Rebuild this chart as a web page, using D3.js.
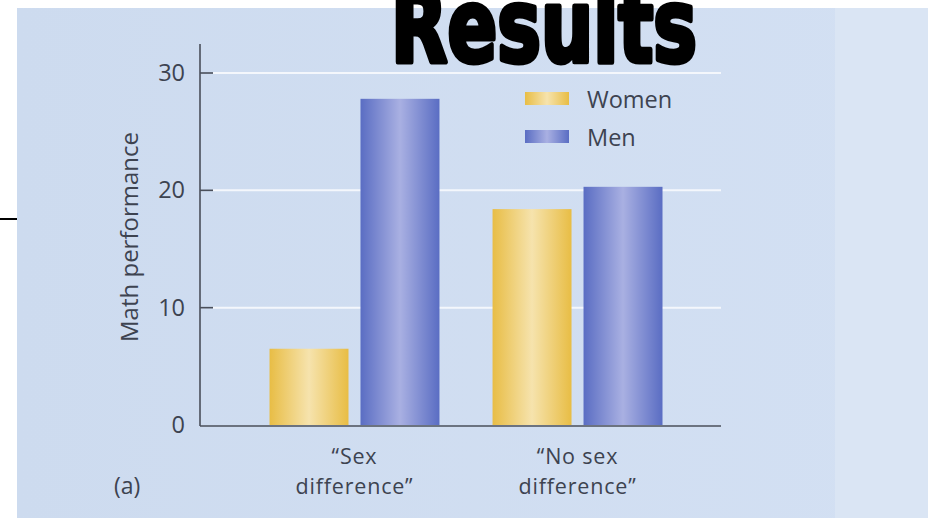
<!DOCTYPE html>
<html>
<head>
<meta charset="utf-8">
<script src="https://cdn.jsdelivr.net/npm/d3@7"></script>
<style>
  html, body { margin: 0; padding: 0; background: #fff; }
  svg { display: block; }
</style>
</head>
<body>
<svg id="chart" width="928" height="518"></svg>
<script>
// ---- data ----
const categories = ["“Sex difference”", "“No sex difference”"];
const categoryLines = [["“Sex", "difference”"], ["“No sex", "difference”"]];
const seriesNames = ["Women", "Men"];
const women = [6.5, 18.4];
const men = [27.8, 20.3];
const yTicks = [0, 10, 20, 30];
const titleText = "Results";
const yLabel = "Math performance";
const panelLabel = "(a)";

const svg = d3.select("#chart");
const W = 928, H = 518;
const textColor = "#3d4350";
const font = "'Open Sans', 'Noto Sans', sans-serif";

// gradients
const defs = svg.append("defs");
function cyl(id, edge, mid) {
  const g = defs.append("linearGradient").attr("id", id).attr("x1", "0%").attr("x2", "100%");
  g.append("stop").attr("offset", "0%").attr("stop-color", edge);
  g.append("stop").attr("offset", "50%").attr("stop-color", mid);
  g.append("stop").attr("offset", "100%").attr("stop-color", edge);
}
cyl("gWomen", "#e8bd45", "#f6e3ad");
cyl("gMen", "#5a6dc3", "#a9b0e2");
const bgGrad = defs.append("linearGradient").attr("id", "gBg").attr("x1", "0%").attr("x2", "100%");
bgGrad.append("stop").attr("offset", "0%").attr("stop-color", "#cddbef");
bgGrad.append("stop").attr("offset", "100%").attr("stop-color", "#d3e0f3");

// background photo region
svg.append("rect").attr("x", 17).attr("y", 8).attr("width", W - 17).attr("height", H - 8)
  .attr("fill", "url(#gBg)");
svg.append("rect").attr("x", 835).attr("y", 8).attr("width", W - 835).attr("height", H - 8)
  .attr("fill", "#dae5f4");
// black line at left
svg.append("line").attr("x1", 0).attr("x2", 17).attr("y1", 219).attr("y2", 219)
  .attr("stroke", "#000").attr("stroke-width", 2);

// scales
const y = d3.scaleLinear().domain([0, 30]).range([425, 73]);
const x0 = d3.scaleBand().domain(categories).range([200, 721])
  .paddingInner(0.238).paddingOuter(0.287).align(0.543);
const x1 = d3.scaleBand().domain(seriesNames).range([0, x0.bandwidth()]).paddingInner(0.132);
const fills = { Women: "url(#gWomen)", Men: "url(#gMen)" };

// gridlines (white)
svg.append("g").selectAll("line").data(yTicks.filter(d => d > 0)).join("line")
  .attr("x1", 213).attr("x2", 721)
  .attr("y1", d => y(d)).attr("y2", d => y(d))
  .attr("stroke", "#f4f7fc").attr("stroke-width", 2);

// bars
const rows = categories.map((c, i) => ({ cat: c, vals: [
  { s: "Women", v: women[i] }, { s: "Men", v: men[i] }] }));
svg.append("g").selectAll("g").data(rows).join("g")
  .attr("transform", d => `translate(${x0(d.cat)},0)`)
  .selectAll("rect").data(d => d.vals).join("rect")
  .attr("x", d => x1(d.s)).attr("width", x1.bandwidth())
  .attr("y", d => y(d.v)).attr("height", d => y(0) - y(d.v))
  .attr("fill", d => fills[d.s]);

// y axis
const yAxis = d3.axisLeft(y).tickValues(yTicks).tickSize(0).tickPadding(15);
const gy = svg.append("g").attr("transform", "translate(200,0)").call(yAxis);
gy.select(".domain").remove();
gy.selectAll("text").attr("font-family", font).attr("font-size", 23.5).attr("fill", textColor);
svg.append("line").attr("x1", 200).attr("x2", 200).attr("y1", 44).attr("y2", 426)
  .attr("stroke", "#4a4f5a").attr("stroke-width", 1.6);
svg.append("g").selectAll("line").data(yTicks.filter(d => d > 0)).join("line")
  .attr("x1", 200).attr("x2", 213).attr("y1", d => y(d)).attr("y2", d => y(d))
  .attr("stroke", "#4a4f5a").attr("stroke-width", 1.6);
// x axis line
svg.append("line").attr("x1", 200).attr("x2", 721).attr("y1", 426).attr("y2", 426)
  .attr("stroke", "#4a4f5a").attr("stroke-width", 1.6);

// category labels (two separate lines)
const catG = svg.append("g").selectAll("g").data(categories).join("g")
  .attr("transform", d => `translate(${x0(d) + x0.bandwidth() / 2},0)`);
catG.selectAll("text").data((d, i) => categoryLines[i]).join("text")
  .attr("x", 0).attr("y", (d, j) => 464 + j * 30)
  .attr("text-anchor", "middle")
  .attr("font-family", font).attr("font-size", 21.5).attr("letter-spacing", 0.8)
  .attr("fill", textColor)
  .text(d => d);

// panel label
svg.append("text").attr("x", 114).attr("y", 494).attr("font-family", font)
  .attr("font-size", 23).attr("fill", textColor).text(panelLabel);

// y label
svg.append("text").attr("transform", "translate(138,237) rotate(-90)")
  .attr("text-anchor", "middle").attr("font-family", font).attr("font-size", 24)
  .attr("fill", textColor).text(yLabel);

// legend
const lg = svg.append("g").selectAll("g").data(seriesNames).join("g")
  .attr("transform", (d, i) => `translate(525,${92 + i * 38})`);
lg.append("rect").attr("width", 44).attr("height", 13).attr("fill", d => fills[d]);
lg.append("text").attr("x", 62).attr("y", 16).attr("font-family", font)
  .attr("font-size", 23.5).attr("fill", textColor).text(d => d);

// title (cut at the top edge, as in the reference)
svg.append("text").attr("x", 544).attr("y", 62).attr("text-anchor", "middle")
  .attr("font-family", "'Liberation Sans Narrow', 'DejaVu Sans Condensed', 'Liberation Sans', sans-serif")
  .attr("font-weight", 900).attr("font-size", 102)
  .attr("textLength", 306).attr("lengthAdjust", "spacingAndGlyphs")
  .attr("fill", "#000").attr("stroke", "#000").attr("stroke-width", 5)
  .attr("stroke-linejoin", "round")
  .text(titleText);
</script>
</body>
</html>
